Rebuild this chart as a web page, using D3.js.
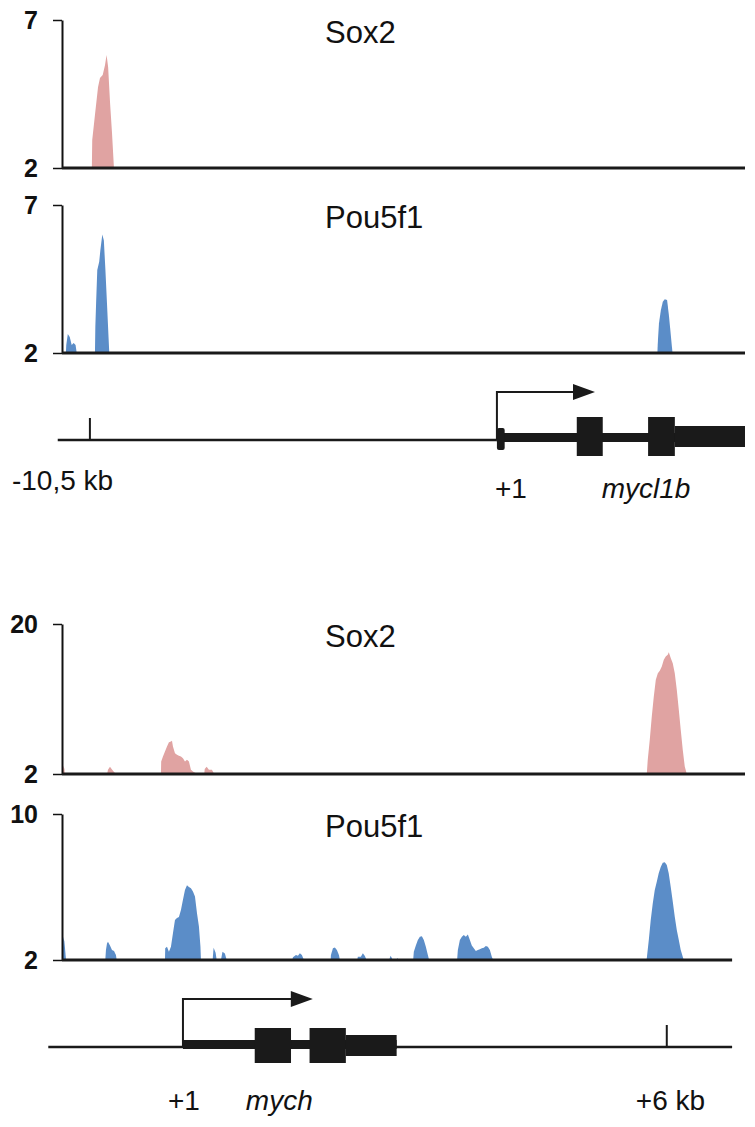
<!DOCTYPE html>
<html>
<head>
<meta charset="utf-8">
<script src="https://cdn.jsdelivr.net/npm/d3@7"></script>
<style>
  body { margin: 0; background: #fff; }
  svg text { font-family: "Liberation Sans", Arial, sans-serif; fill: #111; }
</style>
</head>
<body>
<svg width="755" height="1127"></svg>
<script>
// ChIP-seq read coverage, positions in kb relative to the TSS (+1)

// mycl1b locus
var myclTicks = [2, 7];
var sox2MyclPeaks = [
  [[-10.45, 2], [-10.44, 2.95], [-10.37, 3.79], [-10.29, 4.74], [-10.24, 5.04], [-10.17, 5.14],
   [-10.11, 5.48], [-10.07, 5.82], [-10.03, 5.41], [-9.98, 4.2], [-9.93, 3.18], [-9.88, 2]]
];
var pou5f1MyclPeaks = [
  [[-11.12, 2], [-11.11, 2.27], [-11.07, 2.64], [-11.02, 2.54], [-10.97, 2.27], [-10.92, 2.34],
   [-10.87, 2.27], [-10.84, 2]],
  [[-10.37, 2], [-10.36, 2.89], [-10.34, 3.69], [-10.31, 4.8], [-10.26, 5.08], [-10.23, 5.48],
   [-10.18, 6.0], [-10.14, 5.8], [-10.10, 4.8], [-10.06, 3.69], [-10.02, 2.55], [-10.00, 2]],
  [[4.14, 2], [4.15, 2.33], [4.18, 3.0], [4.23, 3.45], [4.28, 3.73], [4.33, 3.82], [4.39, 3.79],
   [4.44, 3.23], [4.49, 2.55], [4.53, 2]]
];
var myclExons = [[2.06, 2.73], [3.90, 4.59]];
var myclFirstExon = [0, 0.2];
var myclUtr = [4.59, 6.40];
var myclLabels = ["-10,5 kb", "+1", "mycl1b"];

// mych locus
var sox2MychTicks = [2, 20];
var pou5f1MychTicks = [2, 10];
var sox2MychPeaks = [
  [[-1.49, 2], [-1.485, 3.0], [-1.47, 2.6], [-1.465, 2]],
  [[-0.94, 2], [-0.93, 2.5], [-0.905, 2.88], [-0.88, 2.55], [-0.855, 2.25], [-0.83, 2]],
  [[-0.273, 2], [-0.27, 3.5], [-0.248, 4.1], [-0.223, 4.7], [-0.198, 5.3], [-0.174, 5.8],
   [-0.149, 5.9], [-0.136, 6.0], [-0.124, 5.3], [-0.099, 4.5], [-0.074, 4.3], [-0.05, 4.2],
   [-0.025, 4.1], [0, 3.9], [0.025, 3.5], [0.05, 3.7], [0.074, 3.5], [0.099, 2.5], [0.124, 2.3],
   [0.161, 2.1], [0.174, 2]],
  [[0.264, 2], [0.27, 2.6], [0.294, 2.88], [0.322, 2.5], [0.359, 2.5], [0.388, 2]],
  [[5.752, 2], [5.764, 3.7], [5.789, 6.1], [5.814, 8.9], [5.839, 11.3], [5.864, 13.3], [5.889, 14.1],
   [5.913, 14.4], [5.938, 14.9], [5.963, 15.7], [5.987, 16.1], [6.012, 16.3], [6.025, 16.6],
   [6.05, 15.9], [6.074, 15.3], [6.099, 14.1], [6.124, 12.1], [6.149, 9.7], [6.173, 7.3],
   [6.198, 4.9], [6.223, 2.9], [6.248, 2]]
];
var pou5f1MychPeaks = [
  [[-1.49, 2], [-1.485, 3.28], [-1.47, 3.0], [-1.45, 2]],
  [[-0.963, 2], [-0.955, 2.55], [-0.942, 2.9], [-0.93, 3.0], [-0.905, 2.8], [-0.88, 2.55],
   [-0.855, 2.5], [-0.831, 2.27], [-0.822, 2]],
  [[-0.223, 2], [-0.22, 2.64], [-0.198, 2.73], [-0.174, 2.45], [-0.149, 2.73], [-0.124, 3.46],
   [-0.099, 4.19], [-0.074, 4.3], [-0.05, 4.36], [-0.025, 4.74], [0, 5.3], [0.025, 5.84],
   [0.05, 6.1], [0.074, 6.0], [0.099, 5.93], [0.124, 5.75], [0.149, 5.48], [0.174, 4.56],
   [0.198, 3.84], [0.217, 2.73], [0.223, 2]],
  [[0.368, 2], [0.38, 2.67], [0.405, 2.4], [0.418, 2]],
  [[0.471, 2], [0.49, 2.45], [0.52, 2.35], [0.542, 2]],
  [[1.355, 2], [1.364, 2.15], [1.401, 2.27], [1.426, 2.23], [1.45, 2.37], [1.475, 2.27], [1.5, 2]],
  [[1.831, 2], [1.835, 2.27], [1.86, 2.65], [1.884, 2.69], [1.909, 2.55], [1.934, 2.27], [1.946, 2]],
  [[2.161, 2], [2.169, 2.18], [2.206, 2.18], [2.231, 2.37], [2.256, 2.22], [2.277, 2]],
  [[2.557, 2], [2.575, 2.23], [2.603, 2]],
  [[2.64, 2], [2.66, 2.1], [2.678, 2]],
  [[2.855, 2], [2.863, 2.45], [2.888, 2.8], [2.913, 3.1], [2.938, 3.28], [2.963, 3.3], [2.987, 3.1],
   [3.012, 2.73], [3.037, 2.27], [3.053, 2]],
  [[3.4, 2], [3.409, 2.55], [3.434, 3.1], [3.459, 3.28], [3.483, 3.37], [3.508, 3.28], [3.533, 3.4],
   [3.558, 3.1], [3.582, 2.8], [3.607, 2.64], [3.632, 2.5], [3.657, 2.55], [3.682, 2.59],
   [3.706, 2.64], [3.731, 2.67], [3.756, 2.77], [3.781, 2.73], [3.806, 2.55], [3.83, 2.18], [3.847, 2]],
  [[5.748, 2], [5.752, 2.09], [5.777, 3.1], [5.801, 4.19], [5.826, 5.1], [5.851, 5.84], [5.876, 6.29],
   [5.9, 6.75], [5.925, 7.1], [5.95, 7.33], [5.975, 7.35], [6.0, 7.2], [6.024, 6.75], [6.049, 6.0],
   [6.074, 5.2], [6.099, 4.37], [6.124, 3.64], [6.149, 3.1], [6.173, 2.55], [6.198, 2.18], [6.21, 2]]
];
var mychExons = [[0.89, 1.34], [1.57, 2.02]];
var mychUtr = [2.02, 2.65];
var mychLabels = ["+1", "mych", "+6 kb"];

var pink = "#e0a3a2", blue = "#5b8dc8";

var svg = d3.select("svg");

// x scales, one per locus
var xMycl = d3.scaleLinear().domain([-11.22, 6.40]).range([62, 745]);
var xMych = d3.scaleLinear().domain([-1.50, 6.97]).range([62, 745]);

var tracks = [
  {name: "Sox2", peaks: sox2MyclPeaks, ticks: myclTicks, color: pink, x: xMycl, top: 20, bottom: 168, end: 6.40},
  {name: "Pou5f1", peaks: pou5f1MyclPeaks, ticks: myclTicks, color: blue, x: xMycl, top: 205, bottom: 353, end: 6.40},
  {name: "Sox2", peaks: sox2MychPeaks, ticks: sox2MychTicks, color: pink, x: xMych, top: 624, bottom: 774, end: 6.97},
  {name: "Pou5f1", peaks: pou5f1MychPeaks, ticks: pou5f1MychTicks, color: blue, x: xMych, top: 814, bottom: 960, end: 6.81}
];

tracks.forEach(function(t) {
  var y = d3.scaleLinear().domain(d3.extent(t.ticks)).range([t.bottom, t.top]);
  var g = svg.append("g");

  var area = d3.area()
    .x(function(d) { return t.x(d[0]); })
    .y0(y(t.ticks[0]))
    .y1(function(d) { return y(d[1]); });

  g.selectAll(".peak")
    .data(t.peaks)
    .enter().append("path")
      .attr("class", "peak")
      .attr("d", area)
      .attr("fill", t.color);

  // y axis, only top and bottom values
  var axis = g.append("g")
    .attr("transform", "translate(" + t.x.range()[0] + ",0)")
    .call(d3.axisLeft(y).tickValues(t.ticks).tickFormat(d3.format("d"))
      .tickSize(9).tickSizeOuter(0).tickPadding(15));
  axis.select(".domain").attr("stroke", "#111").attr("stroke-width", 2);
  axis.selectAll(".tick line").attr("stroke", "#111").attr("stroke-width", 1.5);
  axis.selectAll(".tick text")
    .attr("font-size", 25)
    .attr("font-weight", "bold")
    .attr("font-family", "Liberation Sans, Arial, sans-serif")
    .attr("fill", "#111");

  // baseline
  g.append("line")
    .attr("x1", t.x.range()[0])
    .attr("x2", t.x(t.end))
    .attr("y1", t.bottom)
    .attr("y2", t.bottom)
    .attr("stroke", "#1a1a1a")
    .attr("stroke-width", 3);

  g.append("text")
    .attr("x", 325)
    .attr("y", t.top + 23)
    .attr("font-size", 31)
    .text(t.name);
});

// gene models
function drawGene(opt) {
  var x = opt.x, ly = opt.y;
  var g = svg.append("g");

  g.append("line")
    .attr("x1", x(opt.lineStart)).attr("x2", x(opt.lineEnd))
    .attr("y1", ly).attr("y2", ly)
    .attr("stroke", "#1a1a1a").attr("stroke-width", 2.5);

  // thick transcribed part
  g.append("rect")
    .attr("x", x(0)).attr("width", x(opt.utr[1]) - x(0))
    .attr("y", ly - 7).attr("height", 9)
    .attr("fill", "#1a1a1a");

  g.selectAll(".exon")
    .data(opt.exons)
    .enter().append("rect")
      .attr("class", "exon")
      .attr("x", function(d) { return x(d[0]); })
      .attr("width", function(d) { return x(d[1]) - x(d[0]); })
      .attr("y", ly - opt.exonUp)
      .attr("height", opt.exonH)
      .attr("fill", "#1a1a1a");

  g.append("rect")
    .attr("x", x(opt.utr[0])).attr("width", x(opt.utr[1]) - x(opt.utr[0]))
    .attr("y", ly - opt.exonUp + (opt.exonH - 21) / 2).attr("height", 21)
    .attr("fill", "#1a1a1a");

  if (opt.firstExon) {
    g.append("rect")
      .attr("x", x(opt.firstExon[0])).attr("width", x(opt.firstExon[1]) - x(opt.firstExon[0]))
      .attr("y", ly - 12).attr("height", 22)
      .attr("rx", 2)
      .attr("fill", "#1a1a1a");
  }

  // marker tick
  g.append("line")
    .attr("x1", x(opt.marker)).attr("x2", x(opt.marker))
    .attr("y1", ly).attr("y2", ly - 22)
    .attr("stroke", "#1a1a1a").attr("stroke-width", 2);

  // TSS arrow
  var ay = ly - 48;
  g.append("path")
    .attr("d", "M" + x(0) + "," + ly + "V" + ay + "H" + (x(opt.arrowEnd) - 20))
    .attr("fill", "none").attr("stroke", "#1a1a1a").attr("stroke-width", 2);
  g.append("path")
    .attr("d", "M" + (x(opt.arrowEnd) - 22) + "," + (ay - 8) + "L" + x(opt.arrowEnd) + "," + ay +
               "L" + (x(opt.arrowEnd) - 22) + "," + (ay + 8) + "Z")
    .attr("fill", "#1a1a1a");

  g.selectAll(".lab")
    .data(opt.labels)
    .enter().append("text")
      .attr("class", "lab")
      .attr("x", function(d) { return d.x; })
      .attr("y", function(d) { return d.y; })
      .attr("font-size", 28)
      .attr("font-style", function(d) { return d.italic ? "italic" : null; })
      .text(function(d) { return d.text; });
}

drawGene({
  x: xMycl, y: 440, lineStart: -11.33, lineEnd: 0,
  exons: myclExons, exonUp: 23, exonH: 39, utr: myclUtr, firstExon: myclFirstExon,
  marker: -10.5, arrowEnd: 2.53,
  labels: [
    {text: myclLabels[0], x: xMycl(-10.5) - 78, y: 490},
    {text: myclLabels[1], x: xMycl(0) - 2, y: 498},
    {text: myclLabels[2], x: xMycl(2.73) - 1, y: 498, italic: true}
  ]
});

drawGene({
  x: xMych, y: 1047, lineStart: -1.67, lineEnd: 6.81,
  exons: mychExons, exonUp: 19, exonH: 35, utr: mychUtr,
  marker: 6.0, arrowEnd: 1.61,
  labels: [
    {text: mychLabels[0], x: xMych(0) - 15, y: 1110},
    {text: mychLabels[1], x: xMych(0.78), y: 1110, italic: true},
    {text: mychLabels[2], x: xMych(6.0) - 31, y: 1110}
  ]
});
</script>
</body>
</html>
